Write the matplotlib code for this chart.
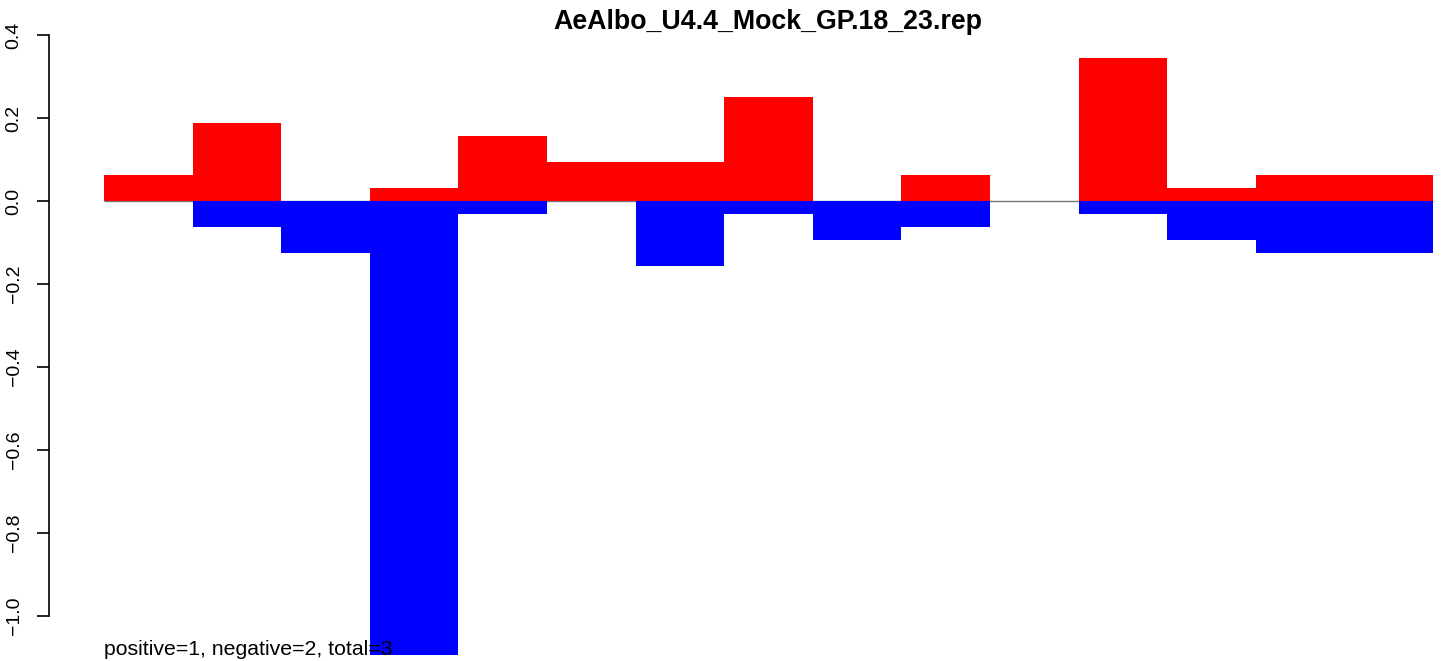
import matplotlib
matplotlib.use('Agg')
import matplotlib.pyplot as plt

# значения по окнам (доли)
positive = [0.0625, 0.1875, 0.0, 0.03125, 0.15625, 0.09375, 0.09375, 0.25,
            0.0, 0.0625, 0.0, 0.34375, 0.03125, 0.0625, 0.0625]
negative = [0.0, -0.0625, -0.125, -1.09375, -0.03125, 0.0, -0.15625, -0.03125,
            -0.09375, -0.0625, 0.0, -0.03125, -0.09375, -0.125, -0.125]
y_ticks = [-1.0, -0.8, -0.6, -0.4, -0.2, 0.0, 0.2, 0.4]
title = 'AeAlbo_U4.4_Mock_GP.18_23.rep'
note = 'positive=1, negative=2, total=3'

plt.rcParams['font.family'] = ['Liberation Sans', 'DejaVu Sans']

W, H = 1449, 661
fig = plt.figure(figsize=(W / 100, H / 100), dpi=100)

# оси занимают всю высоту, слева от линии оси y
ax = fig.add_axes([49 / W, 0, 1 - 49 / W, 1])
bar_w = 88.6  # пикселей на один столбец
x0 = (104 - 49) / bar_w
ax.set_xlim(-x0, (W - 49) / bar_w - x0)
px = 415.0  # пикселей на единицу по y
ax.set_ylim(-(H - 201) / px, 201 / px)

xs = list(range(len(positive)))
ax.hlines(0, 0, len(positive), color='#777777', lw=1, zorder=1)
ax.bar(xs, positive, width=1, align='edge', color='#ff0000', lw=0, zorder=2)
ax.bar(xs, negative, width=1, align='edge', color='#0000ff', lw=0, zorder=3)

for s in ['top', 'right', 'bottom']:
    ax.spines[s].set_visible(False)
ax.spines['left'].set_bounds(-1.0, 0.4)
ax.spines['left'].set_linewidth(1.2)
ax.set_xticks([])
ax.set_yticks(y_ticks)
ax.set_yticklabels([('%.1f' % v).replace('-', '\u2212') for v in y_ticks],
                   rotation=90, va='center')
ax.tick_params(axis='y', length=9, width=1.2, pad=10, labelsize=14)

fig.text(768 / W, 1 - 29 / H, title, ha='center', va='baseline',
         fontsize=19.3, fontweight='bold')
fig.text(104 / W, 1 - 655 / H, note, ha='left', va='baseline', fontsize=15.3,
         zorder=10)

fig.savefig('out.png', dpi=100)
